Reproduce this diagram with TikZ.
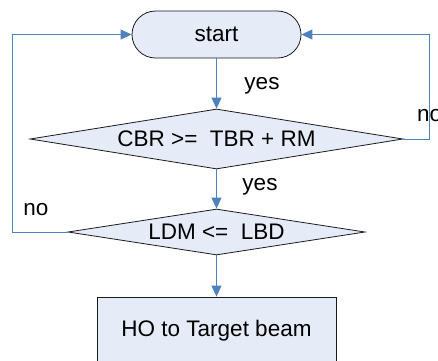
\documentclass[tikz,border=0pt]{standalone}
\usepackage{fontspec}
\setmainfont{Liberation Sans}
\usetikzlibrary{shapes.geometric,arrows.meta}
\definecolor{boxfill}{HTML}{E6ECF7}
\definecolor{flowblue}{HTML}{4F81BD}
\definecolor{edgegray}{HTML}{1A1A1A}
\tikzset{
  every node/.style={font=\fontsize{22.5}{26}\selectfont, inner sep=0pt},
  shapebase/.style={draw=edgegray, line width=0.8pt, fill=boxfill},
  terminal/.style={shapebase, rectangle, rounded corners=23.5pt, minimum width=169pt, minimum height=47pt},
  decision/.style={shapebase, diamond},
  process/.style={shapebase, rectangle, minimum width=239pt, minimum height=70pt},
  flow/.style={draw=flowblue, line width=0.9pt, -{Triangle[length=11pt,width=10pt]}},
  tag/.style={text=black}
}
\begin{document}
\begin{tikzpicture}[x=1pt,y=-1pt]
\useasboundingbox (0,0) rectangle (438,360);
\node[terminal] (start) at (216.5,34.5) {start};
\node[decision, aspect=6.2, minimum width=373pt, minimum height=60pt] (cbr) at (216.5,139) {CBR >=\ \ TBR + RM};
\node[decision, aspect=6.45, minimum width=297pt, minimum height=46pt] (ldm) at (216.5,232) {LDM <=\ \ LBD};
\node[process] (ho) at (216.5,332) {\raisebox{7pt}{HO to Target beam}};
\coordinate (rc) at (429.5,139);
\coordinate (lc) at (12.5,232);
\draw[flow] (start) -- (cbr);
\draw[flow] (cbr) -- (ldm);
\draw[flow] (ldm) -- (ho);
\draw[flow] (cbr.east) -- (rc) |- (start.east);
\draw[flow] (ldm.west) -- (lc) |- (start.west);
\node[tag] (yes1) at (262,86) {yes};
\node[tag] (yes2) at (260,187) {yes};
\node[tag, anchor=west] (no1) at (417,116) {no};
\node[tag] (no2) at (36,210) {no};
\end{tikzpicture}
\end{document}
